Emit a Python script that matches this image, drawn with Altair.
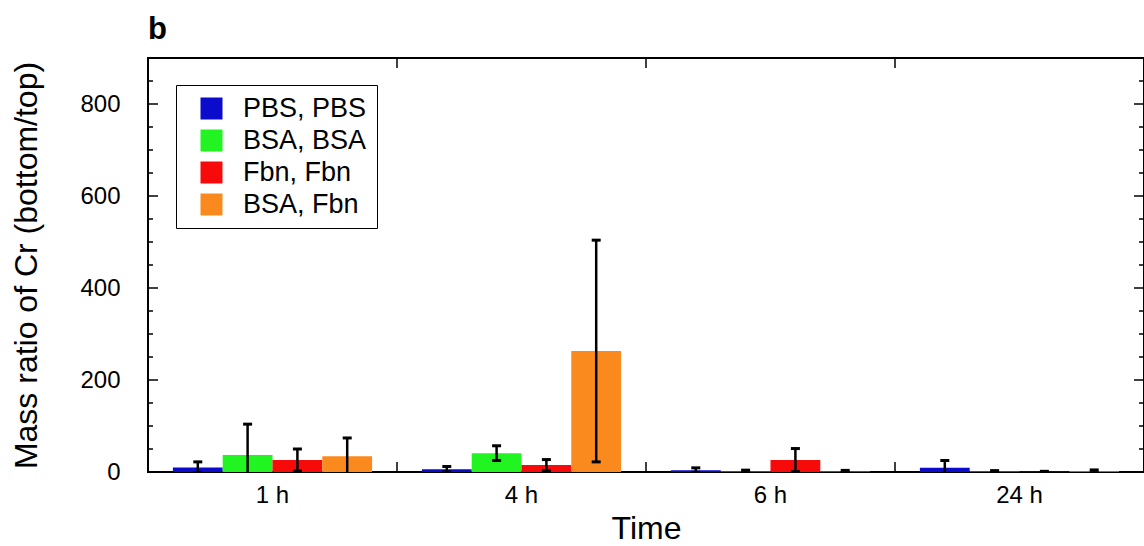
import altair as alt
import pandas as pd

times = ["1 h", "4 h", "6 h", "24 h"]
series = ["PBS, PBS", "BSA, BSA", "Fbn, Fbn", "BSA, Fbn"]
colors = ["#0B0BCB", "#22F422", "#F70A0A", "#FB8A1E"]

mean_pbs = [10, 6, 4, 9]
mean_bsa = [37, 41, 1, 1]
mean_fbn = [26, 15, 26, 0.5]
mean_bsa_fbn = [34, 263, 1, 1.5]

err_pbs = [12, 6, 5, 16]
err_bsa = [67, 16, 3, 2]
err_fbn = [24, 12, 25, 1]
err_bsa_fbn = [40, 241, 2.5, 3]

y_major = [0, 200, 400, 600, 800]
y_minor = [50, 100, 150, 250, 300, 350, 450, 500, 550, 650, 700, 750, 850]
boundaries = ["4 h", "6 h", "24 h"]

W, H = 996, 414
FONT = "Liberation Sans"

rows = []
for s, m, e in zip(series, [mean_pbs, mean_bsa, mean_fbn, mean_bsa_fbn],
                   [err_pbs, err_bsa, err_fbn, err_bsa_fbn]):
    for t, mv, ev in zip(times, m, e):
        rows.append({"time": t, "series": s, "value": mv, "err": ev})
df = pd.DataFrame(rows)

xscale = alt.Scale(domain=times, paddingInner=0, paddingOuter=0)
oscale = alt.Scale(domain=series, paddingInner=0, paddingOuter=0.5)
yscale = alt.Scale(domain=[0, 900], nice=False, zero=True)

xaxis = alt.Axis(title="Time", labelAngle=0, labelFontSize=24, labelFont=FONT,
                 labelColor="black", labelPadding=11, tickSize=0, ticks=False,
                 domain=False, grid=False, titleFontSize=32, titleFont=FONT,
                 titleFontWeight="normal", titleColor="black", titlePadding=6)
yaxis = alt.Axis(title="Mass ratio of Cr (bottom/top)", values=y_major,
                 labelFontSize=24, labelFont=FONT, labelColor="black",
                 labelPadding=28, tickSize=0, ticks=False, domain=False,
                 grid=False, titleFontSize=32, titleFont=FONT,
                 titleFontWeight="normal", titleColor="black", titlePadding=36)

X = alt.X("time:N", scale=xscale, sort=times, axis=xaxis)
XO = alt.XOffset("series:N", scale=oscale, sort=series)

base = alt.Chart(df).transform_calculate(
    lo="datum.value - datum.err", hi="datum.value + datum.err"
)

bars = base.mark_bar(clip=True).encode(
    x=X, xOffset=XO,
    y=alt.Y("value:Q", scale=yscale, axis=yaxis),
    color=alt.Color("series:N", scale=alt.Scale(domain=series, range=colors),
                    legend=alt.Legend(title=None, orient="none", legendX=28, legendY=27,
                                      strokeColor="black", fillColor="white",
                                      padding=10, symbolOffset=12,
                                      symbolType="square", symbolSize=484,
                                      symbolStrokeWidth=0, symbolOpacity=1,
                                      labelFontSize=27, labelFont=FONT,
                                      labelColor="black", labelOffset=18,
                                      rowPadding=4)),
)

rules = base.mark_rule(color="black", strokeWidth=2.5, clip=True).encode(
    x=X, xOffset=XO,
    y=alt.Y("lo:Q", scale=yscale, axis=yaxis),
    y2="hi:Q",
)

cap_hi = base.mark_tick(color="black", size=9, thickness=3, clip=True, opacity=1).encode(
    x=X, xOffset=XO,
    y=alt.Y("hi:Q", scale=yscale, axis=yaxis),
)
cap_lo = base.mark_tick(color="black", size=9, thickness=3, clip=True, opacity=1).encode(
    x=X, xOffset=XO,
    y=alt.Y("lo:Q", scale=yscale, axis=yaxis),
)

major_df = pd.DataFrame({"v": y_major})
minor_df = pd.DataFrame({"v": y_minor})
bound_df = pd.DataFrame({"time": boundaries})

def yticks(data, length):
    left = alt.Chart(data).mark_rule(color="black", strokeWidth=1.5).encode(
        y=alt.Y("v:Q", scale=yscale, axis=yaxis), x=alt.value(0), x2=alt.value(length))
    right = alt.Chart(data).mark_rule(color="black", strokeWidth=1.5).encode(
        y=alt.Y("v:Q", scale=yscale, axis=yaxis), x=alt.value(W), x2=alt.value(W - length))
    return [left, right]

XB = alt.X("time:N", scale=xscale, sort=times, bandPosition=0, axis=xaxis)
xt_bottom = alt.Chart(bound_df).mark_rule(color="black", strokeWidth=1.5).encode(
    x=XB, y=alt.value(H), y2=alt.value(H - 10))
xt_top = alt.Chart(bound_df).mark_rule(color="black", strokeWidth=1.5).encode(
    x=XB, y=alt.value(0), y2=alt.value(10))

chart = alt.layer(
    bars, rules, cap_hi, cap_lo,
    *yticks(major_df, 10), *yticks(minor_df, 5),
    xt_bottom, xt_top,
).properties(
    width=W, height=H,
    padding={"left": 148, "top": 58, "right": 0, "bottom": 74},
    autosize=alt.AutoSizeParams(type="none"),
    title=alt.TitleParams("b", anchor="start", frame="group", fontSize=31,
                          fontWeight="bold", font=FONT, color="black", offset=11),
).configure(
    background="white"
).configure_view(
    stroke="black", strokeWidth=2
)

chart.save("out.html", embed_options={"renderer": "svg", "actions": False})
